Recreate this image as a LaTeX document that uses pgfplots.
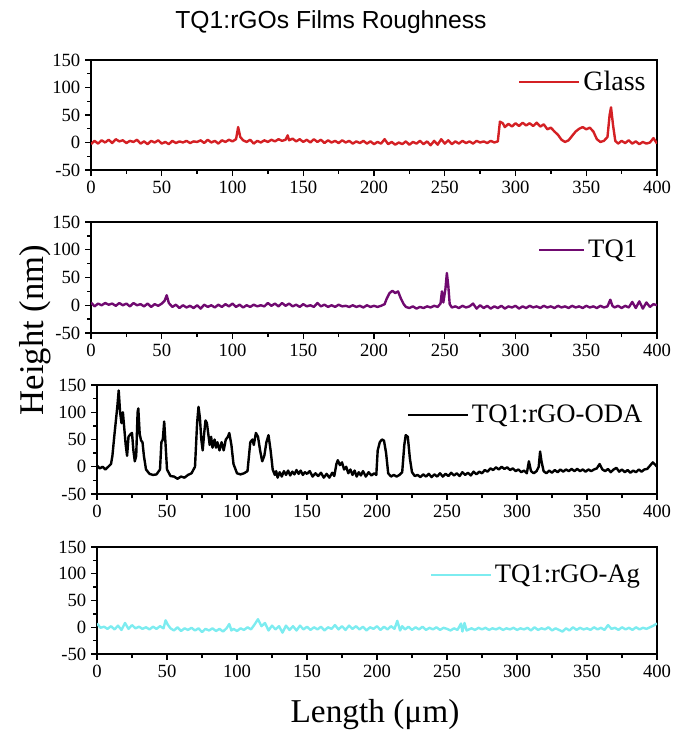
\documentclass[border=0pt]{standalone}
\usepackage{pgfplots}
\pgfplotsset{compat=1.18}
\usepackage{fontspec}
\setmainfont{Liberation Serif}
\newfontfamily\sansf{Liberation Sans}
\definecolor{cred}{RGB}{212,32,36}
\definecolor{cpur}{RGB}{112,10,112}
\definecolor{ccya}{RGB}{125,236,240}
\pgfplotsset{panel/.style={scale only axis, xmin=0,xmax=400,ymin=-50,ymax=150,
 xtick={0,50,...,400}, ytick={-50,0,...,150}, minor x tick num=1, minor y tick num=1,
 tick align=outside, tick pos=left, axis line style={line width=1.2pt},
 major tick length=4.5pt, minor tick length=3pt,
 every tick/.style={line width=1pt, black},
 tick label style={font=\fontsize{14}{14}\selectfont},
 /pgf/number format/assume math mode=true,
 legend style={draw=none, fill=none, font=\fontsize{20}{20}\selectfont, anchor=east, inner sep=0pt},
 legend image code/.code={\draw[##1, line width=1.8pt] (0pt,0pt) -- (45pt,0pt);},
 every axis plot/.append style={line width=1.8pt, line join=round}}}
\begin{document}
\begin{tikzpicture}
\useasboundingbox (0,0) rectangle (504.75pt,-553.5pt);
\node[font=\sansf\fontsize{18.5}{18.5}\selectfont] at (248.25pt,-16.5pt) {TQ1:rGOs Films Roughness};
\node[font=\fontsize{26}{26}\selectfont, rotate=90] at (26.25pt,-247.5pt) {Height (nm)};
\node[font=\fontsize{25}{25}\selectfont] at (281.25pt,-536.25pt) {Length (μm)};
% Panel 1
\begin{axis}[panel, at={(68.25pt,-127.5pt)}, anchor=south west, width=424.5pt, height=82.5pt,
 legend style={at={(0.985,0.8)}, font=\fontsize{21}{21}\selectfont}]
\addplot[cred] coordinates {(0,-3)(2.5,3)(5,-2)(7.5,4)(10,0)(12.5,5)(15,-1)(17.5,6)(20,2)(22.5,4)(25,-1)(27.5,3)(30,1)(32.5,5)(35,-2)(37.5,2)(40,-3)(42.5,3)(45,0)(47.5,4)(50,-2)(52.5,1)(55,-3)(57.5,3)(60,-1)(62.5,2)(65,0)(67.5,3)(70,-1)(72.5,2)(75,1)(77.5,4)(80,-1)(82.5,5)(85,0)(87.5,3)(90,-2)(92.5,4)(95,1)(97.5,5)(100,2)(102.5,6)(104,28)(105.5,10)(107.5,4)(110,1)(112.5,5)(115,-2)(117.5,3)(120,0)(122.5,4)(125,1)(127.5,5)(130,2)(132.5,6)(135,3)(137.5,5)(139,13)(140,4)(142.5,7)(145,2)(147.5,6)(150,1)(152.5,5)(155,0)(157.5,6)(160,1)(162.5,5)(165,-1)(167.5,4)(170,0)(172.5,3)(175,-1)(177.5,4)(180,0)(182.5,3)(185,-2)(187.5,2)(190,-1)(192.5,3)(195,-2)(197.5,2)(200,-3)(202.5,1)(205,-2)(207.5,6)(210,-3)(212.5,1)(215,-4)(217.5,0)(220,-3)(222.5,2)(225,-4)(227.5,1)(230,-2)(232.5,3)(235,-3)(237.5,2)(240,-5)(242.5,3)(245,-4)(247.5,6)(250,-2)(252.5,4)(255,-3)(257.5,2)(260,-2)(262.5,3)(265,-1)(267.5,2)(270,-2)(272.5,3)(275,0)(277.5,2)(280,-1)(282.5,3)(285,0)(287.5,2)(289,38)(291,35)(292.5,28)(295,34)(297.5,29)(300,35)(302.5,30)(305,36)(307.5,31)(310,35)(312.5,30)(315,36)(317.5,29)(320,33)(322.5,24)(325,27)(327.5,20)(330,14)(332.5,5)(335,1)(337.5,4)(340,12)(342.5,20)(345,25)(347.5,28)(350,24)(352.5,27)(355,20)(357.5,6)(360,1)(362.5,3)(365,10)(366.5,50)(367.5,64)(369,30)(370.5,3)(372.5,-2)(375,3)(377.5,-1)(380,4)(382.5,-2)(385,2)(387.5,-3)(390,1)(392.5,-2)(395,0)(397.5,8)(400,-2)};
\addlegendentry{Glass}
\end{axis}
% Panel 2
\begin{axis}[panel, at={(68.25pt,-249.75pt)}, anchor=south west, width=424.5pt, height=83.25pt,
 legend style={at={(0.97,0.75)}},
 legend image code/.code={\draw[#1, line width=1.8pt] (0pt,0pt) -- (34pt,0pt);}]
\addplot[cpur] coordinates {(0,5)(2.5,-2)(5,3)(7.5,0)(10,4)(12.5,1)(15,3)(17.5,-1)(20,4)(22.5,0)(25,3)(27.5,-2)(30,4)(32.5,0)(35,2)(37.5,-2)(40,3)(42.5,-3)(45,2)(47.5,-1)(50,3)(52,8)(53.5,18)(55,4)(57.5,-3)(60,1)(62.5,-5)(65,0)(67.5,-4)(70,-1)(72.5,-5)(75,0)(77.5,-6)(80,1)(82.5,-3)(85,0)(87.5,-4)(90,1)(92.5,-3)(95,2)(97.5,-2)(100,3)(102.5,-3)(105,1)(107.5,-4)(110,0)(112.5,-3)(115,1)(117.5,-2)(120,0)(122.5,-2)(125,4)(127.5,-1)(130,3)(132.5,-2)(135,4)(137.5,-1)(140,3)(142.5,-2)(145,1)(147.5,-3)(150,2)(152.5,-2)(155,0)(157.5,-3)(160,4)(162.5,-2)(165,1)(167.5,-3)(170,0)(172.5,-3)(175,1)(177.5,-2)(180,-1)(182.5,-3)(185,0)(187.5,-3)(190,-1)(192.5,-4)(195,0)(197.5,-3)(200,-1)(202.5,-3)(205,-1)(207.5,2)(209,12)(211,22)(213,26)(215,22)(217,25)(219,12)(221,2)(222.5,-3)(225,-5)(227.5,-2)(230,-6)(232.5,-3)(235,-5)(237.5,-2)(240,-4)(242.5,-1)(245,-3)(247,3)(248,25)(249,5)(250.5,30)(251.5,58)(252.5,35)(253.5,2)(255,-4)(257.5,-2)(260,-5)(262.5,-1)(265,-4)(267.5,-2)(270,3)(272.5,-6)(275,0)(277.5,-5)(280,-1)(282.5,-6)(285,-2)(287.5,-5)(290,-1)(292.5,-6)(295,-2)(297.5,-4)(300,-1)(302.5,-6)(305,-2)(307.5,-5)(310,-1)(312.5,-4)(315,-2)(317.5,-5)(320,-1)(322.5,-4)(325,-2)(327.5,-5)(330,-1)(332.5,-4)(335,-2)(337.5,-5)(340,-1)(342.5,-4)(345,-2)(347.5,-5)(350,-1)(352.5,-4)(355,-2)(357.5,-5)(360,-1)(362.5,-4)(365,-2)(367,10)(368.5,-1)(370,-4)(372.5,-1)(375,-5)(377.5,-1)(380,-4)(382.5,6)(385,-5)(387.5,7)(390,-6)(392.5,5)(395,-3)(397.5,2)(400,0)};
\addlegendentry{TQ1}
\end{axis}
% Panel 3
\begin{axis}[panel, at={(72.75pt,-370.5pt)}, anchor=south west, width=420pt, height=81.75pt,
 legend style={at={(0.979,0.725)}}]
\addplot[black] coordinates {(0,2)(2,-3)(4,0)(6,-5)(8,0)(10,5)(11,20)(12.5,60)(13.5,85)(14.5,110)(15.5,140)(16.5,100)(17.5,80)(18.5,100)(19.5,70)(20.5,40)(21.5,20)(22.5,55)(24,60)(25,62)(26,30)(27,10)(28,20)(29,100)(29.5,107)(30.5,60)(31.5,48)(32.5,45)(33.5,20)(35,-5)(37.5,-13)(40,-15)(42.5,-14)(45,-5)(46,45)(47,50)(48,83)(49,40)(50,-5)(52.5,-17)(55,-18)(57.5,-22)(60,-18)(62.5,-20)(65,-15)(67.5,-12)(70,0)(71.5,80)(72.5,110)(73.5,90)(74.5,50)(75.5,30)(76.5,60)(77.5,85)(78.5,80)(79.5,60)(80.5,40)(81.5,55)(82.5,35)(84,50)(85,35)(86,45)(87.5,30)(89,45)(90.5,30)(92,50)(93.5,55)(94.5,62)(96,40)(97.5,5)(100,-12)(102.5,-14)(105,-12)(107.5,-8)(109.5,45)(111,50)(112,40)(113.5,62)(115,55)(116.5,30)(118,10)(119.5,20)(121,45)(122.5,58)(124,30)(125.5,-5)(127,-15)(128,-8)(129,-20)(130.5,-10)(132,-18)(133.5,-8)(135,-15)(136.5,-7)(138,-16)(139.5,-9)(141,-14)(142.5,-6)(144,-13)(145.5,-7)(147,-15)(148.5,-10)(150,-13)(152,-8)(154,-18)(156,-12)(158,-17)(160,-11)(162,-20)(164,-13)(166,-20)(168,-11)(169.5,-17)(171,5)(172,12)(173.5,3)(175,8)(176.5,-5)(178,0)(179.5,-12)(181,-5)(182.5,-15)(184,-7)(185.5,-18)(187,-10)(188.5,-16)(190,-8)(192,-18)(194,-10)(196,-16)(198,-12)(199.5,-15)(200.5,30)(202,45)(203.5,50)(205,48)(206.5,25)(208,-12)(210,-18)(212,-15)(214,-18)(216,-15)(218,-10)(219.5,40)(220.5,58)(222,55)(223.5,15)(225,-10)(227,-17)(229,-15)(231,-19)(233,-14)(235,-18)(237,-13)(239,-19)(241,-14)(243,-18)(245,-12)(247,-18)(249,-13)(251,-17)(253,-11)(255,-16)(257,-12)(259,-17)(261,-10)(263,-15)(265,-11)(267,-16)(269,-9)(271,-14)(273,-9)(275,-12)(277,-6)(279,-9)(281,-3)(283,-6)(285,-1)(287,-5)(289,0)(291,-4)(293,-1)(295,-6)(297,-3)(299,-8)(301,-5)(303,-10)(305,-7)(307,-12)(308.5,10)(310,-8)(312,-12)(314,-8)(315.5,0)(316.5,28)(317.5,10)(319,-8)(321,-12)(323,-7)(325,-11)(327,-6)(329,-10)(331,-5)(333,-9)(335,-5)(337,-8)(339,-4)(341,-8)(343,-4)(345,-8)(347,-5)(349,-9)(351,-5)(353,-8)(355,-5)(357,-3)(359,5)(361,-5)(363,-8)(365,-4)(367,-10)(369,-5)(371,-2)(373,-9)(375,-5)(377,-10)(379,-6)(381,-11)(383,-7)(385,-10)(387,-5)(389,-9)(391,-5)(393,-4)(395,2)(397,8)(399,3)(400,0)};
\addlegendentry{TQ1:rGO-ODA}
\end{axis}
% Panel 4
\begin{axis}[panel, at={(72.75pt,-490.5pt)}, anchor=south west, width=420pt, height=80.25pt,
 legend style={at={(0.975,0.74)}}]
\addplot[ccya] coordinates {(0,7)(2.5,-1)(5,1)(7.5,-3)(10,2)(12.5,-4)(15,3)(17.5,-5)(20,8)(22.5,-3)(25,4)(27.5,-2)(30,1)(32.5,-3)(35,0)(37.5,-4)(40,1)(42.5,-3)(45,2)(47.5,-2)(49,13)(50.5,5)(52.5,-2)(55,-6)(57.5,0)(60,-7)(62.5,-2)(65,-5)(67.5,-1)(70,-6)(72.5,-2)(75,-9)(77.5,-3)(80,-6)(82.5,-2)(85,-7)(87.5,-3)(90,-8)(92.5,-2)(94.5,6)(96,-6)(97.5,-3)(100,-7)(102.5,-2)(105,-5)(107.5,0)(110,-4)(112.5,5)(115,15)(117.5,2)(120,8)(122.5,-6)(125,3)(127.5,-4)(130,2)(132.5,-10)(135,3)(137.5,-5)(140,2)(142.5,-6)(145,3)(147.5,-4)(150,1)(152.5,-5)(155,0)(157.5,-4)(160,1)(162.5,-6)(165,0)(167.5,-3)(170,4)(172.5,-4)(175,2)(177.5,-5)(180,3)(182.5,-3)(185,2)(187.5,-4)(190,1)(192.5,-6)(195,0)(197.5,-3)(200,2)(202.5,-5)(205,1)(207.5,-4)(210,2)(212.5,-3)(214.5,12)(216.5,-6)(218,2)(220,-4)(222.5,1)(225,-5)(227.5,0)(230,-4)(232.5,1)(235,-5)(237.5,-1)(240,-4)(242.5,0)(245,-5)(247.5,-1)(250,-3)(252.5,-6)(255,-2)(257.5,-5)(260,7)(261,-8)(262.5,8)(264,-6)(267.5,-2)(270,-5)(272.5,-1)(275,-4)(277.5,-1)(280,-5)(282.5,-2)(285,-4)(287.5,-1)(290,-5)(292.5,-2)(295,-4)(297.5,-1)(300,-5)(302.5,-2)(305,-4)(307.5,-1)(310,-6)(312.5,0)(315,-5)(317.5,-2)(320,-4)(322.5,0)(325,-6)(327.5,-2)(330,-5)(332.5,-8)(335,-2)(337.5,-6)(340,0)(342.5,-5)(345,-1)(347.5,-4)(350,-2)(352.5,-5)(355,0)(357.5,-4)(360,-1)(362.5,-5)(365,4)(367.5,-3)(370,-1)(372.5,-5)(375,0)(377.5,-4)(380,-1)(382.5,-5)(385,0)(387.5,-4)(390,-1)(392.5,-3)(395,0)(397.5,3)(400,7)};
\addlegendentry{TQ1:rGO-Ag}
\end{axis}
\end{tikzpicture}
\end{document}
